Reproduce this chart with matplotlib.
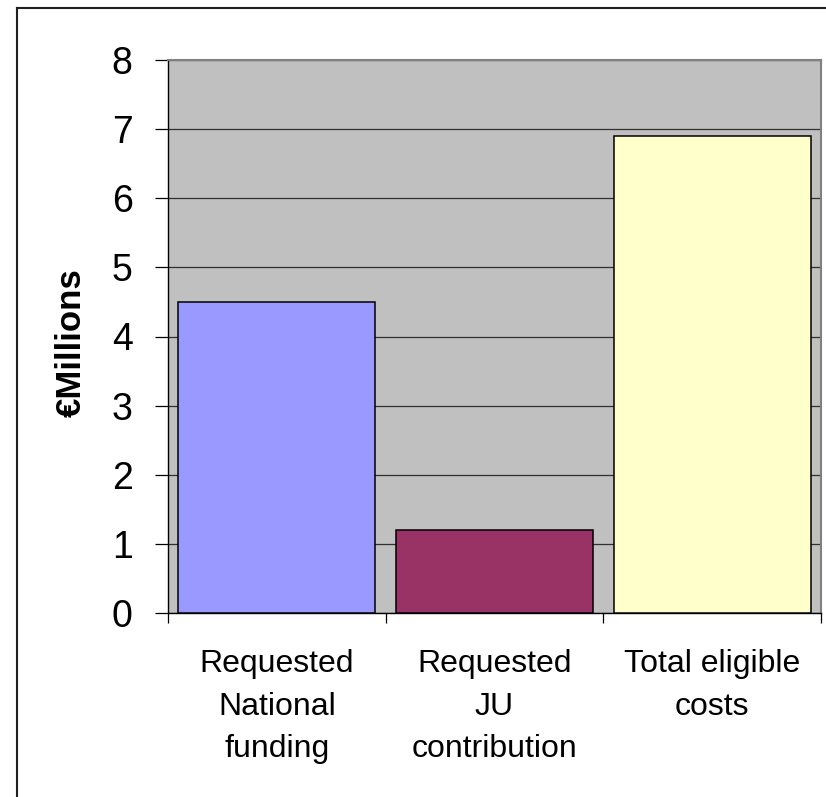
import numpy as np
import matplotlib.pyplot as plt
from matplotlib.lines import Line2D

plt.rcParams['font.family'] = ['Liberation Sans', 'DejaVu Sans']

# chart data
categories = ['Requested\nNational\nfunding', 'Requested\nJU\ncontribution', 'Total eligible\ncosts']
values = [4.5, 1.2, 6.9]
bar_colors = ['#9999FF', '#993366', '#FFFFCC']
y_ticks = [0, 1, 2, 3, 4, 5, 6, 7, 8]

fig = plt.figure(figsize=(8.26, 7.97), dpi=100)
ax = fig.add_axes([168 / 826, 1 - 613 / 797, (821 - 168) / 826, (613 - 60) / 797])
ax.set_facecolor('#C0C0C0')

x = np.arange(len(categories))
ax.bar(x, values, width=0.905, color=bar_colors, edgecolor='black', linewidth=1.1, zorder=3)

ax.set_xlim(-0.5, len(categories) - 0.5)
ax.set_ylim(0, 8)
ax.set_yticks(y_ticks)
ax.set_yticklabels([str(t) for t in y_ticks], fontsize=27)
ax.yaxis.grid(True, color='#303030', linewidth=0.9, zorder=0)
ax.set_axisbelow(True)
ax.tick_params(axis='y', direction='out', length=9.5, width=0.9, pad=16)

# category labels centred, tick marks on the category boundaries
ax.set_xticks(x)
ax.set_xticklabels(categories, fontsize=23, linespacing=1.55)
ax.set_xticks(np.arange(-0.5, len(categories)), minor=True)
ax.tick_params(axis='x', which='major', length=0, pad=26)
ax.tick_params(axis='x', which='minor', direction='out', length=7.5, width=0.9)

for side in ['left', 'bottom']:
    ax.spines[side].set_color('black')
    ax.spines[side].set_linewidth(1.0)
for side in ['top', 'right']:
    ax.spines[side].set_color('#808080')
    ax.spines[side].set_linewidth(1.5)

fig.text(71 / 826, 1 - 343 / 797, '€Millions', rotation=90, ha='center', va='center',
         fontsize=25, fontweight='bold')

# chart frame (left and top edges visible)
fig.add_artist(Line2D([17 / 826, 17 / 826], [0, 1 - 8 / 797], color='#202020', linewidth=1.5))
fig.add_artist(Line2D([17 / 826, 1], [1 - 8 / 797, 1 - 8 / 797], color='#202020', linewidth=1.5))

fig.savefig('out.png', dpi=100)
